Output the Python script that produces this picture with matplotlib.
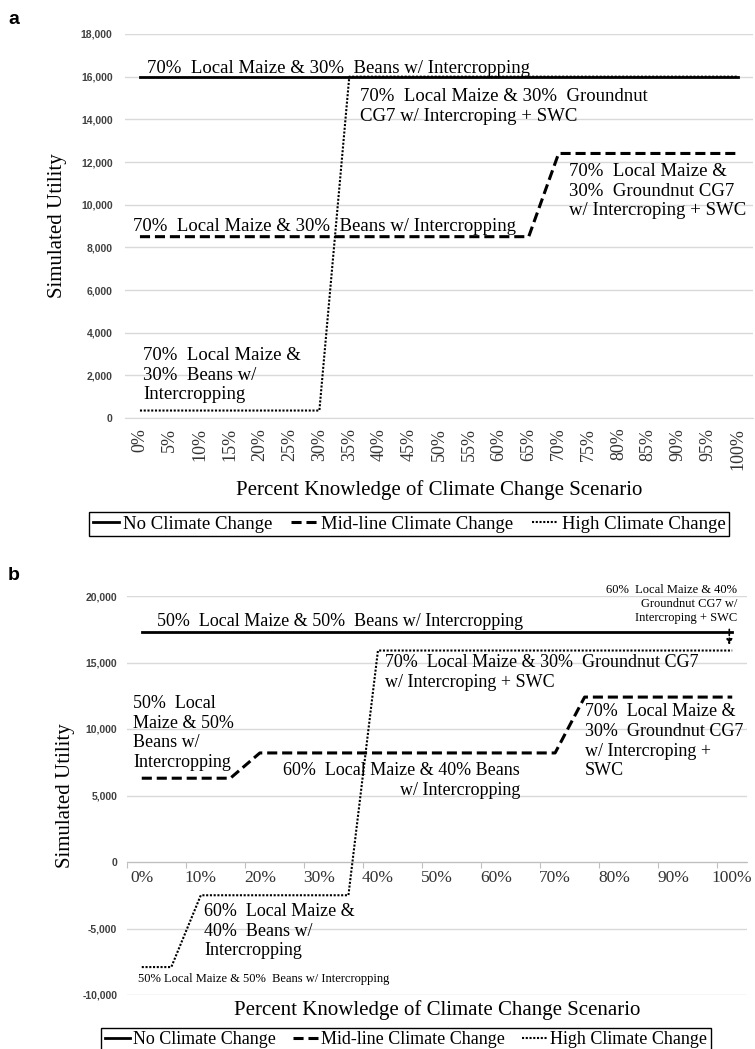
import numpy as np
import matplotlib
matplotlib.use('Agg')
import matplotlib.pyplot as plt

plt.rcParams['font.family'] = ['Liberation Serif', 'DejaVu Serif']

# ---- data ----
pct_a = ['0%', '5%', '10%', '15%', '20%', '25%', '30%', '35%', '40%', '45%', '50%',
         '55%', '60%', '65%', '70%', '75%', '80%', '85%', '90%', '95%', '100%']
no_cc_a = [16000] * 21
mid_cc_a = [8500] * 14 + [12400] * 7
high_cc_a = [350] * 7 + [16000] * 14

pct_b = ['0%', '5%', '10%', '15%', '20%', '25%', '30%', '35%', '40%', '45%', '50%',
         '55%', '60%', '65%', '70%', '75%', '80%', '85%', '90%', '95%', '100%']
pct_b_labels = ['0%', '10%', '20%', '30%', '40%', '50%', '60%', '70%', '80%', '90%', '100%']
no_cc_b = [17300] * 21
mid_cc_b = [6300] * 4 + [8200] * 11 + [12400] * 6
high_cc_b = [-7900] * 2 + [-2500] * 6 + [15900] * 13

series_names = ['No Climate Change', 'Mid-line Climate Change', 'High Climate Change']

grid_col = '#d9d9d9'
tick_col = '#404040'
solid_kw = dict(color='black', lw=2.0, linestyle='-')
dash_kw = dict(color='black', lw=2.2, linestyle=(0, (3.3, 1.6)))
dot_kw = dict(color='black', lw=1.5, linestyle=(0, (1, 0.8)))

fig = plt.figure(figsize=(7.55, 10.49), dpi=100)
W, H = 755, 1049

# ================= panel a =================
ax = fig.add_axes([125 / W, 1 - 418 / H, 628 / W, 384 / H])
x = np.arange(len(pct_a))
l1, = ax.plot(x, no_cc_a, **solid_kw)
l2, = ax.plot(x, mid_cc_a, **dash_kw)
l3, = ax.plot(x, high_cc_a, **dot_kw)
ax.set_xlim(-0.5, 20.5)
ax.set_ylim(0, 18000)
yt = np.arange(0, 18001, 2000)
ax.set_yticks(yt, labels=[f'{v:,}' for v in yt])
ax.set_xticks(x, labels=pct_a)
ax.grid(axis='y', color=grid_col, lw=1)
ax.set_axisbelow(True)
for s in ['top', 'right', 'left']:
    ax.spines[s].set_visible(False)
ax.spines['bottom'].set_color(grid_col)
ax.tick_params(axis='x', length=0, pad=7, labelsize=13, labelrotation=90, labelcolor='#333333')
ax.tick_params(axis='y', length=0, pad=9, labelsize=7.5, labelcolor=tick_col)
for lab in ax.get_yticklabels():
    lab.set_family('Liberation Sans')
    lab.set_weight('bold')
ax.set_ylabel('Simulated Utility', fontsize=15)
ax.yaxis.set_label_coords(-0.092, 0.5)
ax.set_xlabel('Percent Knowledge of Climate Change Scenario', fontsize=15)
ax.xaxis.set_label_coords(0.5, -72 / 384)
ax.xaxis.label.set_verticalalignment('center')

fs = 13.5
ax.text(0.23, 16780, '70%  Local Maize & 30%  Beans w/ Intercropping', fontsize=fs, va='top')
ax.text(7.36, 15470, '70%  Local Maize & 30%  Groundnut\nCG7 w/ Intercroping + SWC', fontsize=fs, va='top')
ax.text(-0.23, 9375, '70%  Local Maize & 30%  Beans w/ Intercropping', fontsize=fs, va='top')
ax.text(14.35, 11950, '70%  Local Maize &\n30%  Groundnut CG7\nw/ Intercroping + SWC', fontsize=fs, va='top')
ax.text(0.1, 3330, '70%  Local Maize &\n30%  Beans w/\nIntercropping', fontsize=fs, va='top')

leg = fig.legend([l1, l2, l3], series_names, loc='center', bbox_to_anchor=(409 / W, 1 - 524 / H),
                 ncol=3, frameon=True, fancybox=False, edgecolor='black', framealpha=1,
                 prop=dict(family='Liberation Serif', size=13.5), handlelength=1.4,
                 handletextpad=0.2, columnspacing=1.0, borderpad=0.2, borderaxespad=0)
leg.get_frame().set_linewidth(1)

fig.text(14 / W, 1 - 20 / H, 'a', fontsize=14, fontweight='bold', family='Liberation Sans',
         ha='center', va='center')

# ================= panel b =================
ax = fig.add_axes([127 / W, 1 - 995 / H, 620 / W, 399 / H])
x = np.arange(len(pct_b))
m1, = ax.plot(x, no_cc_b, **solid_kw)
m2, = ax.plot(x, mid_cc_b, **dash_kw)
m3, = ax.plot(x, high_cc_b, **dot_kw)
ax.set_xlim(-0.5, 20.5)
ax.set_ylim(-10000, 20000)
yt = np.arange(-10000, 20001, 5000)
ax.set_yticks(yt, labels=[f'{v:,}' for v in yt])
ax.set_xticks(np.arange(-0.5, 20, 2), labels=[])
ax.set_xticks(np.arange(0, 21, 2), labels=pct_b_labels, minor=True)
ax.grid(axis='y', color=grid_col, lw=1)
ax.set_axisbelow(True)
for s in ['top', 'right', 'left']:
    ax.spines[s].set_visible(False)
ax.spines['bottom'].set_position(('data', 0))
ax.spines['bottom'].set_color('#bfbfbf')
ax.tick_params(axis='x', which='major', length=4, color='#bfbfbf')
ax.tick_params(axis='x', which='minor', length=0, pad=6, labelsize=12.5, labelcolor='#333333')
ax.tick_params(axis='y', length=0, pad=7, labelsize=7.5, labelcolor=tick_col)
for lab in ax.get_yticklabels():
    lab.set_family('Liberation Sans')
    lab.set_weight('bold')
ax.set_ylabel('Simulated Utility', fontsize=15)
ax.yaxis.set_label_coords(-0.084, 0.5)
ax.set_xlabel('Percent Knowledge of Climate Change Scenario', fontsize=15)
ax.xaxis.set_label_coords(0.5, -15 / 399)
ax.xaxis.label.set_verticalalignment('center')

fs = 13
ax.text(0.52, 18720, '50%  Local Maize & 50%  Beans w/ Intercropping', fontsize=fs, va='top')
ax.text(-0.3, 12560, '50%  Local\nMaize & 50%\nBeans w/\nIntercropping', fontsize=fs, va='top')
ax.text(12.81, 7520, '60%  Local Maize & 40% Beans\nw/ Intercropping', fontsize=fs, va='top',
        ha='right', multialignment='right')
ax.text(8.24, 15640, '70%  Local Maize & 30%  Groundnut CG7\nw/ Intercroping + SWC', fontsize=fs, va='top')
ax.text(15.0, 11920, '70%  Local Maize &\n30%  Groundnut CG7\nw/ Intercroping +\nSWC', fontsize=fs, va='top')
ax.text(20.16, 20900, '60%  Local Maize & 40%\nGroundnut CG7 w/\nIntercroping + SWC', fontsize=9,
        va='top', ha='right', multialignment='right', clip_on=False)
ax.text(2.11, -3080, '60%  Local Maize &\n40%  Beans w/\nIntercropping', fontsize=fs, va='top')
ax.text(-0.13, -8350, '50% Local Maize & 50%  Beans w/ Intercropping', fontsize=9, va='top')
ax.annotate('', xy=(19.9, 16100), xytext=(19.9, 17700),
            arrowprops=dict(arrowstyle='-|>', linestyle=':', color='black', lw=1.2, mutation_scale=8))

leg = fig.legend([m1, m2, m3], series_names, loc='center', bbox_to_anchor=(406 / W, 1 - 1040 / H),
                 ncol=3, frameon=True, fancybox=False, edgecolor='black', framealpha=1,
                 prop=dict(family='Liberation Serif', size=13), handlelength=1.4,
                 handletextpad=0.2, columnspacing=0.9, borderpad=0.2, borderaxespad=0)
leg.get_frame().set_linewidth(1)

fig.text(14 / W, 1 - 575 / H, 'b', fontsize=14, fontweight='bold', family='Liberation Sans',
         ha='center', va='center')

fig.savefig('out.png', dpi=100)
